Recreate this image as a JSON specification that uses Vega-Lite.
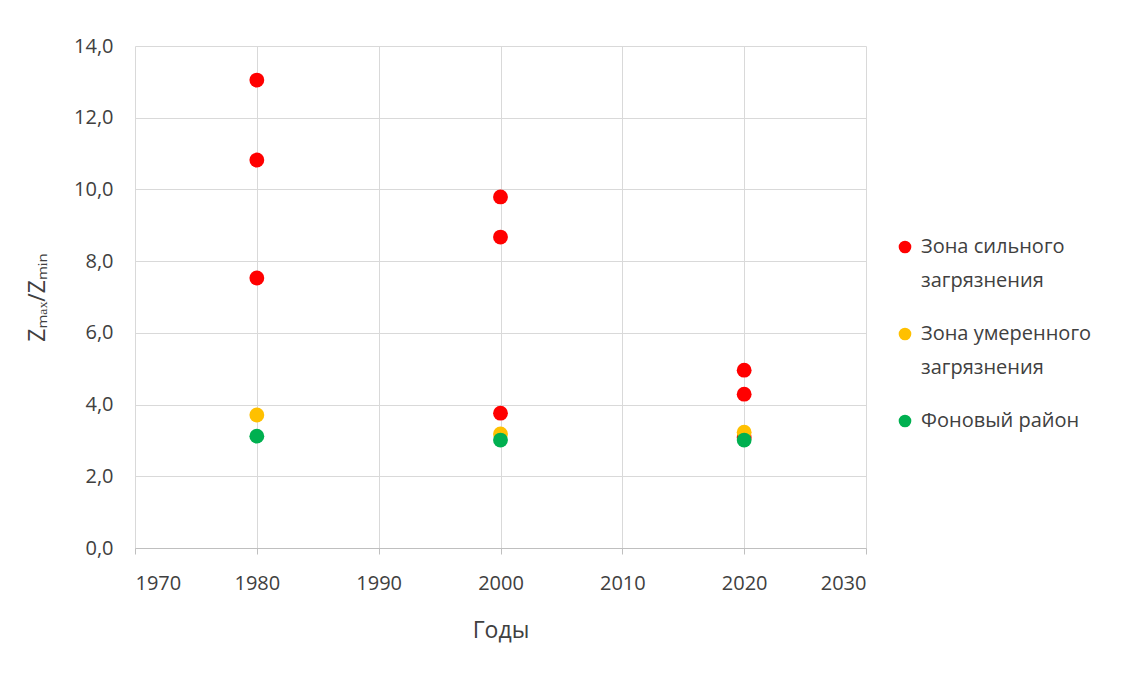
{
  "$schema": "https://vega.github.io/schema/vega-lite/v6.json",
  "autosize": "none",
  "width": 731,
  "height": 502,
  "padding": {"left": 135, "top": 46, "right": 273, "bottom": 129},
  "background": "white",
  "config": {
    "font": "Open Sans",
    "view": {"stroke": null},
    "style": {"guide-label": {"lineHeight": 34}},
    "axis": {
      "labelFont": "Open Sans",
      "titleFont": "Open Sans",
      "labelFontSize": 20,
      "titleFontSize": 23,
      "labelColor": "#404040",
      "titleColor": "#404040",
      "titleFontWeight": "normal",
      "gridColor": "#d9d9d9",
      "gridWidth": 1,
      "domainColor": "#bfbfbf",
      "tickColor": "#bfbfbf"
    }
  },
  "data": {
    "values": [
      {"year": 1980, "z": 13.05, "zone": "Зона сильного|загрязнения"},
      {"year": 1980, "z": 10.82, "zone": "Зона сильного|загрязнения"},
      {"year": 1980, "z": 7.53, "zone": "Зона сильного|загрязнения"},
      {"year": 2000, "z": 9.79, "zone": "Зона сильного|загрязнения"},
      {"year": 2000, "z": 8.67, "zone": "Зона сильного|загрязнения"},
      {"year": 2000, "z": 3.76, "zone": "Зона сильного|загрязнения"},
      {"year": 2020, "z": 4.96, "zone": "Зона сильного|загрязнения"},
      {"year": 2020, "z": 4.29, "zone": "Зона сильного|загрязнения"},
      {"year": 2020, "z": 3.08, "zone": "Зона сильного|загрязнения"},
      {"year": 1980, "z": 3.71, "zone": "Зона умеренного|загрязнения"},
      {"year": 2000, "z": 3.18, "zone": "Зона умеренного|загрязнения"},
      {"year": 2020, "z": 3.23, "zone": "Зона умеренного|загрязнения"},
      {"year": 1980, "z": 3.12, "zone": "Фоновый район"},
      {"year": 2000, "z": 3.01, "zone": "Фоновый район"},
      {"year": 2020, "z": 3.01, "zone": "Фоновый район"}
    ]
  },
  "mark": {"type": "point", "filled": true, "opacity": 1, "size": 220},
  "encoding": {
    "x": {
      "field": "year",
      "type": "quantitative",
      "scale": {"domain": [1970, 2030], "nice": false, "zero": false},
      "axis": {
        "values": [1970, 1980, 1990, 2000, 2010, 2020, 2030],
        "format": "d",
        "title": "Годы",
        "titlePadding": 26,
        "labelPadding": 19,
        "tickSize": 6,
        "domain": true
      }
    },
    "y": {
      "field": "z",
      "type": "quantitative",
      "scale": {"domain": [0, 14], "nice": false},
      "axis": {
        "values": [0, 2, 4, 6, 8, 10, 12, 14],
        "labelExpr": "replace(format(datum.value, '.1f'), '.', ',')",
        "title": "Zₘₐₓ/Zₘᵢₙ",
        "titlePadding": 24,
        "labelPadding": 22,
        "ticks": false,
        "domain": false
      }
    },
    "color": {
      "field": "zone",
      "type": "nominal",
      "scale": {
        "domain": ["Зона сильного|загрязнения", "Зона умеренного|загрязнения", "Фоновый район"],
        "range": ["#ff0000", "#ffc000", "#00b050"]
      },
      "legend": {
        "title": null,
        "orient": "none",
        "legendX": 760,
        "legendY": 191,
        "labelExpr": "split(datum.label, '|')",
        "labelFont": "Open Sans",
        "labelFontSize": 20,
        "labelColor": "#404040",
        "symbolSize": 160,
        "symbolType": "circle",
        "rowPadding": 33,
        "labelOffset": 6,
        "labelLimit": 300
      }
    },
    "order": {"field": "zone"}
  }
}
